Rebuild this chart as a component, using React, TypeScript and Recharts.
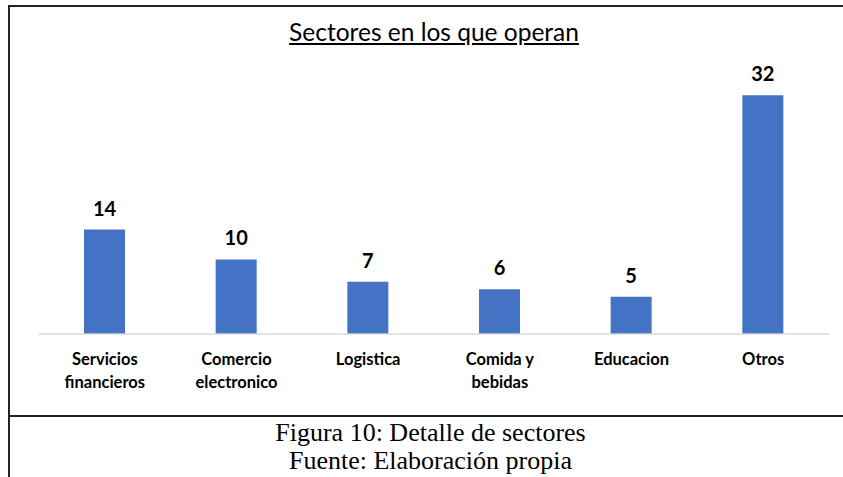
import React from 'react'
import { BarChart, Bar, XAxis, YAxis, LabelList } from 'recharts'

const sectors = ['Servicios financieros', 'Comercio electronico', 'Logistica', 'Comida y bebidas', 'Educacion', 'Otros']
const tickLines = [
  ['Servicios', 'financieros'],
  ['Comercio', 'electronico'],
  ['Logistica'],
  ['Comida y', 'bebidas'],
  ['Educacion'],
  ['Otros'],
]
const counts = [14, 10, 7, 6, 5, 32]

const data = sectors.map((s, i) => ({ sector: s, count: counts[i] }))

const SectorTick = (props: any) => {
  const { x, y, index } = props
  const lines = tickLines[index] ?? [props.payload.value]
  return (
    <text x={x} y={y} textAnchor="middle" fill="#000" fontSize={16.5} fontWeight={700} fontFamily="Lato">
      {lines.map((l, i) => (
        <tspan key={i} x={x} dy={i === 0 ? 23 : 23}>{l}</tspan>
      ))}
    </text>
  )
}

export default function App() {
  return (
    <div style={{ position: 'absolute', left: 0, top: 0, width: 843, height: 477, background: '#fff', overflow: 'hidden' }}>
      <div style={{ position: 'absolute', left: 8, top: 5, width: 835, height: 0, borderTop: '2px solid #222' }} />
      <div style={{ position: 'absolute', left: 8, top: 5, width: 0, height: 472, borderLeft: '2px solid #222' }} />
      <div style={{ position: 'absolute', left: 8, top: 415, width: 835, height: 0, borderTop: '2px solid #222' }} />
      <div style={{ position: 'absolute', left: 0, top: 17, width: 868, textAlign: 'center', fontFamily: 'Lato', fontSize: 24.5, textDecoration: 'underline', color: '#000' }}>
        Sectores en los que operan
      </div>
      <div style={{ position: 'absolute', left: 0, top: 0 }}>
        <BarChart width={843} height={420} data={data} margin={{ top: 73, right: 14, bottom: 0, left: 39 }}>
          <XAxis dataKey="sector" axisLine={{ stroke: '#d9d9d9', strokeWidth: 1.5 }} tickLine={false} tick={<SectorTick />} interval={0} height={86} />
          <YAxis hide domain={[0, 35]} />
          <Bar dataKey="count" fill="#4472C4" barSize={41} isAnimationActive={false}>
            <LabelList dataKey="count" position="top" offset={14} fill="#000" fontSize={20} fontWeight={700} fontFamily="Lato" />
          </Bar>
        </BarChart>
      </div>
      <div style={{ position: 'absolute', left: 0, top: 419, width: 861, textAlign: 'center', fontFamily: '"Liberation Serif"', fontSize: 26, lineHeight: '28px', color: '#000' }}>
        <div>Figura 10: Detalle de sectores</div>
        <div>Fuente: Elaboración propia</div>
      </div>
    </div>
  )
}
